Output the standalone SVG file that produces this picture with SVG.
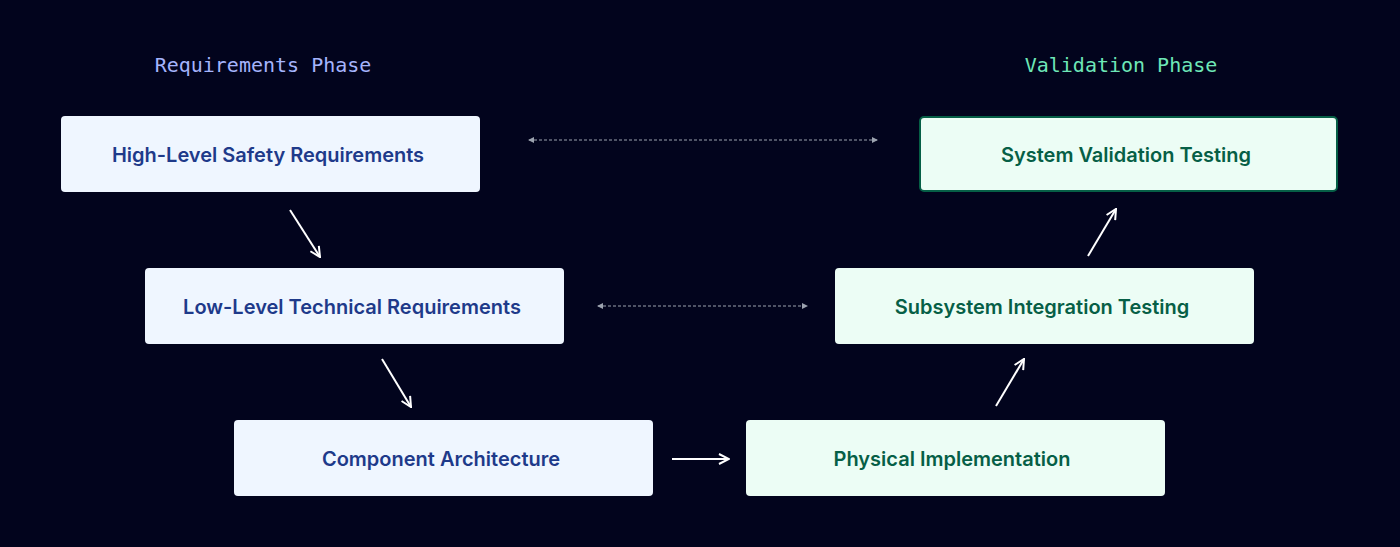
<svg xmlns="http://www.w3.org/2000/svg" width="1400" height="547" viewBox="0 0 1400 547">
<defs>
<style>
.req rect{fill:#eff6ff}
.req text{fill:#1e3a8a}
.val rect{fill:#ecfdf5}
.val text{fill:#065f46}
.lbl{font-family:Inter,"Liberation Sans",sans-serif;font-size:20px;font-weight:600;text-anchor:middle;dominant-baseline:central}
.hdr{font-family:"DejaVu Sans Mono","Liberation Mono",monospace;font-size:20px;font-weight:500;text-anchor:middle}
.arr{stroke:#fff;stroke-width:2;fill:none}
.dot{stroke:#9ca3af;stroke-width:1;stroke-dasharray:3 2;fill:none}
</style>
<marker id="ah" viewBox="0 0 12 12" refX="11" refY="6" markerWidth="12" markerHeight="12" markerUnits="userSpaceOnUse" orient="auto"><path d="M1,1 L11,6 L1,11" fill="none" stroke="#fff" stroke-width="2"/></marker>
<marker id="dh" viewBox="0 0 6 6" refX="5" refY="3" markerWidth="6" markerHeight="6" markerUnits="userSpaceOnUse" orient="auto-start-reverse"><path d="M0,0 L6,3 L0,6z" fill="#9ca3af"/></marker>
</defs>
<rect width="1400" height="547" fill="#02041d"/>
<text class="hdr" x="263" y="72" fill="#a5b4fc">Requirements Phase</text>
<text class="hdr" x="1121" y="72" fill="#6ee7b7">Validation Phase</text>
<g id="connectors">
<line class="dot" x1="529" y1="140" x2="877" y2="140" marker-start="url(#dh)" marker-end="url(#dh)"/>
<line class="dot" x1="598" y1="306" x2="807" y2="306" marker-start="url(#dh)" marker-end="url(#dh)"/>
<line class="arr" x1="290" y1="210" x2="320" y2="257" marker-end="url(#ah)"/>
<line class="arr" x1="382" y1="359" x2="411" y2="407" marker-end="url(#ah)"/>
<line class="arr" x1="672" y1="459" x2="729" y2="459" marker-end="url(#ah)"/>
<line class="arr" x1="996" y1="406" x2="1024" y2="359" marker-end="url(#ah)"/>
<line class="arr" x1="1088" y1="256" x2="1116" y2="209" marker-end="url(#ah)"/>
</g>
<g id="n1" class="req"><rect x="61" y="116" width="419" height="76" rx="4"/><text class="lbl" x="268" y="155">High-Level Safety Requirements</text></g>
<g id="n2" class="req"><rect x="145" y="268" width="419" height="76" rx="4"/><text class="lbl" x="352" y="307">Low-Level Technical Requirements</text></g>
<g id="n3" class="req"><rect x="234" y="420" width="419" height="76" rx="4"/><text class="lbl" x="441" y="459">Component Architecture</text></g>
<g id="n4" class="val"><rect x="746" y="420" width="419" height="76" rx="4"/><text class="lbl" x="952" y="459">Physical Implementation</text></g>
<g id="n5" class="val"><rect x="835" y="268" width="419" height="76" rx="4"/><text class="lbl" x="1042" y="307">Subsystem Integration Testing</text></g>
<g id="n6" class="val"><rect x="920" y="117" width="417" height="74" rx="4" stroke="#065f46" stroke-width="2"/><text class="lbl" x="1126" y="155">System Validation Testing</text></g>
</svg>
